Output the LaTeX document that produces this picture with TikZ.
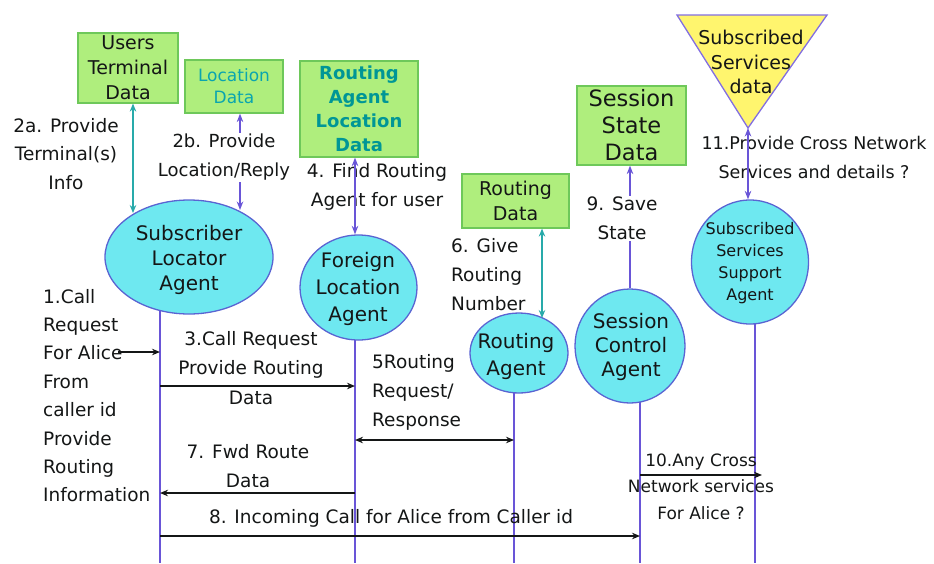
\documentclass[tikz,border=0pt]{standalone}
\usepackage{fontspec}
\setmainfont{DejaVu Sans}
\usetikzlibrary{shapes.geometric,arrows.meta,backgrounds}

\definecolor{boxfill}{RGB}{175,238,125}
\definecolor{boxline}{RGB}{110,200,90}
\definecolor{agentfill}{RGB}{110,232,240}
\definecolor{agentline}{RGB}{90,100,210}
\definecolor{lifeline}{RGB}{105,85,215}
\definecolor{tealline}{RGB}{40,170,170}
\definecolor{tealtext}{RGB}{10,165,175}
\definecolor{tealdark}{RGB}{0,150,150}
\definecolor{trifill}{RGB}{255,245,110}
\definecolor{triline}{RGB}{130,110,225}
\definecolor{ink}{RGB}{20,22,22}

\tikzset{
  store/.style={draw=boxline, line width=1.2pt, fill=boxfill, inner sep=0pt,
    align=center, text=ink, font=\fontsize{19}{25}\selectfont},
  agent/.style={ellipse, draw=agentline, line width=1.3pt, fill=agentfill, inner sep=0pt},
  agenttxt/.style={align=center, inner sep=0pt, text=ink, font=\fontsize{20}{25}\selectfont},
  lbl/.style={align=center, inner sep=1pt, text=ink, font=\fontsize{18.5}{28.5}\selectfont},
  life/.style={draw=lifeline, line width=1.3pt},
  msg/.style={draw=ink, line width=1.5pt, -{Stealth[length=8pt,width=6.5pt]}},
  dmsg/.style={draw=ink, line width=1.5pt, {Stealth[length=8pt,width=6.5pt]}-{Stealth[length=8pt,width=6.5pt]}},
  tealarrow/.style={draw=tealline, line width=1.7pt, {Stealth[length=8pt,width=6.5pt]}-{Stealth[length=8pt,width=6.5pt]}},
  purparrow/.style={draw=lifeline, line width=1.4pt, {Stealth[length=8.5pt,width=6.5pt]}-{Stealth[length=8.5pt,width=6.5pt]}},
  purpsingle/.style={draw=lifeline, line width=1.4pt, -{Stealth[length=8.5pt,width=6.5pt]}},
}

\begin{document}
\begin{tikzpicture}[x=1pt,y=-1pt]
\useasboundingbox (0,0) rectangle (934,563);

% ---------- data stores ----------
\node[store, minimum width=100pt, minimum height=70pt] (utd) at (128,68) {Users\\Terminal\\Data};
\node[store, minimum width=98pt, minimum height=53pt, text=tealtext,
      font=\fontsize{17}{22}\selectfont] (ld) at (234,86.5) {Location\\Data};
\node[store, minimum width=118pt, minimum height=96pt, text=tealdark,
      font=\bfseries\fontsize{18}{24}\selectfont] (rald) at (359,109) {Routing\\Agent\\Location\\Data};
\node[store, minimum width=107pt, minimum height=54pt] (rd) at (515.5,201) {Routing\\Data};
\node[store, minimum width=109pt, minimum height=79pt,
      font=\fontsize{22.5}{27}\selectfont] (ssd) at (631.5,125.5) {Session\\State\\Data};

% subscribed services store (inverted triangle)
\draw[draw=triline, line width=1.3pt, fill=trifill]
  (677,15) coordinate (tl) -- (827,15) coordinate (tr) -- (748,128) coordinate (tritip) -- cycle;
\node[agenttxt, font=\fontsize{19}{24.5}\selectfont] (ssdata) at (751,62) {Subscribed\\Services\\data};

% ---------- agents ----------
\node[agent, minimum width=168pt, minimum height=114pt] (sla) at (189,257) {};
\node[agenttxt] (slaT) at (189,260) {Subscriber\\Locator\\Agent};
\node[agent, minimum width=117pt, minimum height=105pt] (fla) at (358.5,287.5) {};
\node[agenttxt, font=\fontsize{20}{27}\selectfont] (flaT) at (358,289) {Foreign\\Location\\Agent};
\node[agent, minimum width=98pt, minimum height=80pt] (ra) at (519,353) {};
\node[agenttxt, font=\fontsize{20}{27}\selectfont] (raT) at (516,356) {Routing\\Agent};
\node[agent, minimum width=110pt, minimum height=114pt] (sca) at (630,346) {};
\node[agenttxt, font=\fontsize{20}{24}\selectfont] (scaT) at (631,347) {Session\\Control\\Agent};
\node[agent, minimum width=117pt, minimum height=124pt] (sssa) at (750,262) {};
\node[agenttxt, font=\fontsize{16}{22}\selectfont] (sssaT) at (750,263) {Subscribed\\Services\\Support\\Agent};

% ---------- lifelines ----------
\coordinate (l1) at (160,563);
\coordinate (l2) at (355,563);
\coordinate (l3) at (514,563);
\coordinate (l4) at (640,563);
\coordinate (l5) at (755,563);
\begin{scope}[on background layer]
  \draw[life] (l1 |- sla.center) -- (l1);
  \draw[life] (l2 |- fla.center) -- (l2);
  \draw[life] (l3 |- ra.center) -- (l3);
  \draw[life] (l4 |- sca.center) -- (l4);
  \draw[life] (l5 |- sssa.center) -- (l5);
\end{scope}

% ---------- store access ----------
\coordinate (e2a) at (133,213);
\draw[tealarrow] (e2a |- utd.south) -- (e2a);
\coordinate (e2b) at (240,210);
\draw[purparrow] (e2b |- ld.south) -- (e2b);
\coordinate (e6) at (542,318);
\draw[tealarrow] (e6 |- rd.south) -- (e6);
\draw[purpsingle] (sca.north) -- (sca.north |- ssd.south);

% ---------- labels ----------
\node[lbl] (t2a) at (66,154) {2a. Provide\\Terminal(s)\\Info};
\node[lbl, fill=white, font=\fontsize{18}{29}\selectfont] (t2b) at (224,157.5) {2b. Provide\\Location/Reply};
\node[lbl] (t4) at (377,187) {4. Find Routing\\Agent for user};
\node[lbl, align=left, anchor=west, font=\fontsize{18.5}{29}\selectfont] (t6) at (450,275) {6. Give\\Routing\\Number};
\node[lbl, fill=white, font=\fontsize{18.5}{29}\selectfont] (t9) at (622,218) {9. Save\\State};
\node[lbl, font=\fontsize{17.5}{29}\selectfont] (t11) at (814,157.5) {11.Provide Cross Network\\Services and details ?};
\node[lbl, align=left, anchor=west, font=\fontsize{18.5}{28.4}\selectfont] (t1) at (42,395.5)
  {1.Call\\Request\\For Alice\\From\\caller id\\Provide\\Routing\\Information};
\node[lbl, font=\fontsize{18.5}{29}\selectfont] (t3) at (251,354.5) {3.Call Request\\Provide Routing};
\node[lbl] (t3b) at (251,398) {Data};
\node[lbl, align=left, anchor=west, font=\fontsize{18.5}{29}\selectfont] (t5) at (371,392) {5Routing\\Request/\\Response};
\node[lbl, font=\fontsize{18.5}{29}\selectfont] (t7) at (248,466) {7. Fwd Route\\Data};
\node[lbl] (t8) at (391,518) {8. Incoming Call for Alice from Caller id};
\node[lbl, font=\fontsize{17}{26.5}\selectfont] (t10) at (701,486.5) {10.Any Cross\\Network services\\For Alice ?};

% ---------- arrows drawn over their labels ----------
\draw[purparrow] (rald.south -| l2) -- (fla.north -| l2);
\draw[purparrow] (tritip) -- (tritip |- sssa.north);

% ---------- messages ----------
\coordinate (r1) at (118,352);
\draw[msg] (r1) -- (r1 -| l1);
\coordinate (r3) at (0,386);
\draw[msg] (l1 |- r3) -- (l2 |- r3);
\coordinate (r5) at (0,440);
\draw[dmsg] (l2 |- r5) -- (l3 |- r5);
\coordinate (r7) at (0,493);
\draw[msg] (l2 |- r7) -- (l1 |- r7);
\coordinate (r8) at (0,536);
\draw[msg] (l1 |- r8) -- (l4 |- r8);
\coordinate (r10) at (762,475);
\draw[msg] (l4 |- r10) -- (r10);
\end{tikzpicture}
\end{document}
